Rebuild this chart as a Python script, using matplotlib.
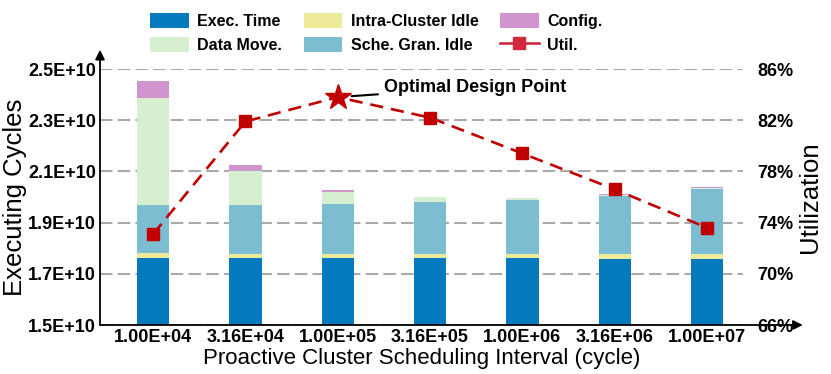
import matplotlib
matplotlib.use("Agg")
import matplotlib.pyplot as plt
from matplotlib.lines import Line2D
import numpy as np

plt.rcParams['font.family'] = ['Liberation Sans', 'DejaVu Sans']

categories = ['1.00E+04', '3.16E+04', '1.00E+05', '3.16E+05', '1.00E+06', '3.16E+06', '1.00E+07']
exec_time = [1.763e10, 1.760e10, 1.760e10, 1.760e10, 1.760e10, 1.758e10, 1.758e10]
intra_idle = [0.018e10, 0.017e10, 0.017e10, 0.018e10, 0.018e10, 0.019e10, 0.019e10]
sche_idle = [0.187e10, 0.191e10, 0.197e10, 0.202e10, 0.211e10, 0.228e10, 0.255e10]
data_move = [0.420e10, 0.135e10, 0.044e10, 0.020e10, 0.007e10, 0.004e10, 0.004e10]
config = [0.066e10, 0.023e10, 0.008e10, 0.001e10, 0.001e10, 0.003e10, 0.003e10]
util = [73.1, 81.9, 83.8, 82.2, 79.4, 76.6, 73.6]
optimal_idx = 2

left_ticks = [1.5e10, 1.7e10, 1.9e10, 2.1e10, 2.3e10, 2.5e10]
right_ticks = [66, 70, 74, 78, 82, 86]

c_exec = '#0479BD'
c_intra = '#EDEB9A'
c_sche = '#7DBDD1'
c_data = '#D5EFD0'
c_config = '#D094CE'
c_util = '#C00000'

fig = plt.figure(figsize=(8.31, 3.74), dpi=100)
ax = fig.add_axes([100/831, 1-325/374, 643/831, 256/374])
x = np.arange(len(categories))
w = 0.35

bottom = np.zeros(len(categories))
series = [(exec_time, c_exec, 'Exec. Time'), (intra_idle, c_intra, 'Intra-Cluster Idle'),
          (sche_idle, c_sche, 'Sche. Gran. Idle'), (data_move, c_data, 'Data Move.'),
          (config, c_config, 'Config.')]
handles = {}
for vals, col, lab in series:
    b = ax.bar(x, vals, w, bottom=bottom, color=col, label=lab, zorder=2)
    handles[lab] = b
    bottom = bottom + np.array(vals)

ax.set_xlim(-0.575, 6.39)
ax.set_ylim(left_ticks[0], left_ticks[-1])
ax.set_yticks(left_ticks)
ax.set_yticklabels(['{:.1E}'.format(v) for v in left_ticks], fontsize=13, fontweight='bold')
ax.set_xticks(x)
ax.set_xticklabels(categories, fontsize=13, fontweight='bold')
ax.tick_params(axis='both', length=0)
ax.tick_params(axis='y', pad=3)
ax.tick_params(axis='x', pad=3)
ax.set_axisbelow(True)
ax.yaxis.grid(True, color='#AAAAAA', linestyle=(0, (6, 2.5)), linewidth=1.5, zorder=0)
for s in ax.spines.values():
    s.set_visible(False)

ax.set_ylabel('Executing Cycles', fontsize=18.5)
ax.yaxis.set_label_coords(-0.113, 0.5)
ax.set_xlabel('Proactive Cluster Scheduling Interval (cycle)', fontsize=16, labelpad=1)

# axis arrows
ax.annotate('', xy=(0, 1.075), xytext=(0, 0), xycoords='axes fraction',
            arrowprops=dict(arrowstyle='-|>', color='black', lw=1.3, mutation_scale=14,
                            shrinkA=0, shrinkB=0), annotation_clip=False)
ax.annotate('', xy=(1.093, 0), xytext=(0, 0), xycoords='axes fraction',
            arrowprops=dict(arrowstyle='-|>', color='black', lw=1.3, mutation_scale=14,
                            shrinkA=0, shrinkB=0), annotation_clip=False)

ax2 = ax.twinx()
ax2.set_ylim(right_ticks[0], right_ticks[-1])
ax2.set_yticks(right_ticks)
ax2.set_yticklabels(['{:d}%'.format(v) for v in right_ticks], fontsize=13, fontweight='bold')
ax2.tick_params(axis='y', length=0, pad=10)
for s in ax2.spines.values():
    s.set_visible(False)
ax2.set_ylabel('Utilization', fontsize=18.5)
ax2.yaxis.set_label_coords(1.0855, 0.5)

sq_idx = [i for i in range(len(util)) if i != optimal_idx]
line, = ax2.plot(x, util, color=c_util, linestyle=(0, (5, 3)), linewidth=1.9,
                 marker='s', markersize=8, markevery=sq_idx, label='Util.', zorder=5,
                 clip_on=False)
ax2.plot([x[optimal_idx]], [util[optimal_idx]], marker='*', markersize=19,
         color=c_util, linestyle='none', zorder=6, clip_on=False)
ax2.annotate('Optimal Design Point', xy=(x[optimal_idx], util[optimal_idx]),
             xytext=(33, 7), textcoords='offset points', ha='left', va='center',
             fontsize=13, fontweight='bold',
             arrowprops=dict(arrowstyle='-', color='black', lw=1.5, shrinkA=2, shrinkB=10))

util_handle = Line2D([], [], color='#D0283C', linestyle='-', linewidth=1.9,
                     marker='s', markersize=8)
leg_handles = [handles['Exec. Time'], handles['Data Move.'], handles['Intra-Cluster Idle'],
               handles['Sche. Gran. Idle'], handles['Config.'], util_handle]
leg_labels = ['Exec. Time', 'Data Move.', 'Intra-Cluster Idle', 'Sche. Gran. Idle', 'Config.', 'Util.']
leg = fig.legend(leg_handles, leg_labels, ncol=3, loc='upper center',
                 bbox_to_anchor=(0.453, 0.995), frameon=False,
                 prop={'size': 11.5, 'weight': 'bold'}, handlelength=2.4, handleheight=1.05,
                 handletextpad=0.55, columnspacing=1.35, labelspacing=0.5, borderpad=0.2)

fig.savefig('out.png', dpi=100)
